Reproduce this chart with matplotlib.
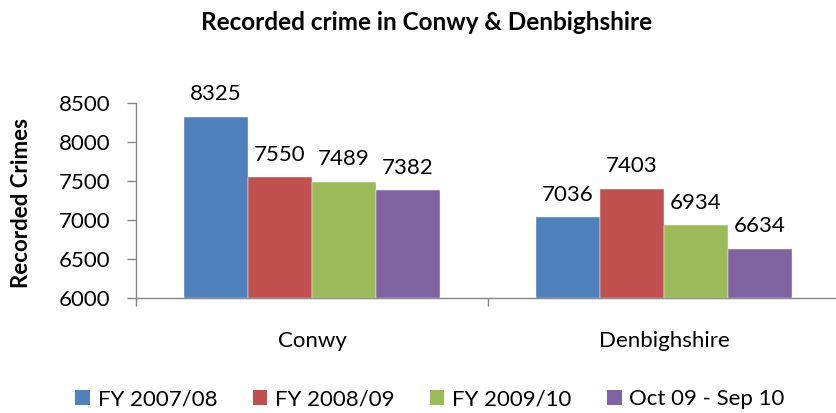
import matplotlib
matplotlib.use("Agg")
import matplotlib.pyplot as plt
import numpy as np
from matplotlib.patches import Patch

# --- data ---
areas = ["Conwy", "Denbighshire"]
periods = ["FY 2007/08", "FY 2008/09", "FY 2009/10", "Oct 09 - Sep 10"]
fy_0708 = [8325, 7036]
fy_0809 = [7550, 7403]
fy_0910 = [7489, 6934]
oct09_sep10 = [7382, 6634]
yticks = [6000, 6500, 7000, 7500, 8000, 8500]

colors = ["#4F81BD", "#C0504D", "#9BBB59", "#8064A2"]
FONT = "Lato"
FS = 16
AXIS_GREY = "#868686"

plt.rcParams["font.family"] = [FONT, "DejaVu Sans"]

W, H = 836, 413
fig = plt.figure(figsize=(W / 100, H / 100), dpi=100)
# axes box measured in pixels off the reference
ax = fig.add_axes([136 / W, 115 / H, 704 / W, 195 / H])

series = [fy_0708, fy_0809, fy_0910, oct09_sep10]
x = np.arange(len(areas))
bw = 1 / 5.5  # excel default gap width 150%
for i, vals in enumerate(series):
    offs = (i - 1.5) * bw
    bars = ax.bar(x + offs, np.array(vals) - 6000, bw, bottom=6000,
                  color=colors[i], edgecolor="white", linewidth=0.3)
    ax.bar_label(bars, labels=[str(v) for v in vals], padding=9, fontsize=FS)

ax.set_xlim(-0.5, 1.5)
ax.set_ylim(6000, 8500)
ax.set_yticks(yticks)
ax.set_yticklabels([str(t) for t in yticks], fontsize=FS)
ax.set_xticks(x)
ax.set_xticklabels(areas, fontsize=FS)
ax.set_xticks([-0.5, 0.5, 1.5], minor=True)
ax.tick_params(axis="x", which="major", length=0, pad=24)
ax.tick_params(axis="x", which="minor", length=6, color=AXIS_GREY, width=1)
ax.tick_params(axis="y", length=6.5, color=AXIS_GREY, width=1, pad=12)

for side in ["top", "right"]:
    ax.spines[side].set_visible(False)
for side in ["left", "bottom"]:
    ax.spines[side].set_color(AXIS_GREY)
    ax.spines[side].set_linewidth(1)

fig.text(427 / W, 1 - 22 / H, "Recorded crime in Conwy & Denbighshire",
         ha="center", va="center", fontsize=17.5, fontweight="bold")
fig.text(22 / W, 1 - 203 / H, "Recorded Crimes", rotation=90,
         ha="center", va="center", fontsize=16, fontweight="bold")

handles = [Patch(facecolor=c, edgecolor="none") for c in colors]
fig.legend(handles, periods, loc="center", bbox_to_anchor=(430 / W, 14 / H),
           ncol=4, frameon=False, fontsize=FS, handlelength=0.65,
           handleheight=0.65, handletextpad=0.35, columnspacing=1.6)

fig.savefig("out.png", dpi=100)
